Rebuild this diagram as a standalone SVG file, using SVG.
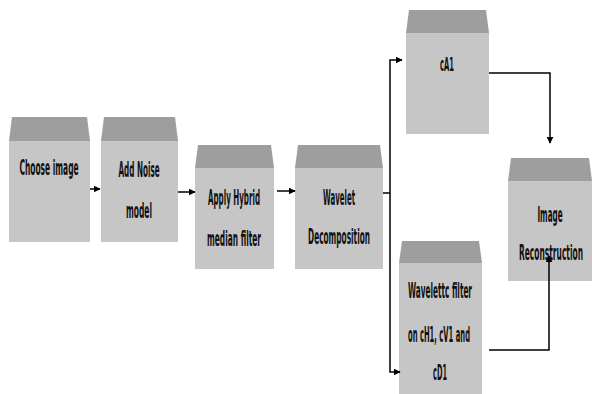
<svg xmlns="http://www.w3.org/2000/svg" width="592" height="394" viewBox="0 0 592 394">
<style>
.top{fill:#9e9e9e}
.body{fill:#c6c6c6}
.t{font-family:"DejaVu Sans Condensed","DejaVu Sans",sans-serif;font-weight:bold;font-size:22px;fill:#111;text-anchor:middle}
.s{font-size:19px}
.c{fill:none;stroke:#000;stroke-width:1.5}
</style>
<defs>
<marker id="ah" viewBox="0 0 10 10" refX="9" refY="5" markerWidth="7" markerHeight="7" markerUnits="userSpaceOnUse" orient="auto">
<path d="M0,0 L10,5 L0,10 z" fill="#000"/>
</marker>
</defs>
<rect width="592" height="394" fill="#fff"/>
<g id="n1">
<path class="top" d="M12,117 H87 L90,141 H9 Z"/>
<rect class="body" x="9" y="141" width="81" height="101"/>
<text class="t" transform="translate(49,175) scale(0.4,1)" textLength="148" lengthAdjust="spacingAndGlyphs">Choose image</text>
</g>
<g id="n2">
<path class="top" d="M104,117 H175 L178,141 H101 Z"/>
<rect class="body" x="101" y="141" width="77" height="101"/>
<text class="t" transform="translate(139,177) scale(0.4,1)" textLength="103" lengthAdjust="spacingAndGlyphs">Add Noise</text>
<text class="t" transform="translate(139,218) scale(0.4,1)" textLength="65" lengthAdjust="spacingAndGlyphs">model</text>
</g>
<g id="n3">
<path class="top" d="M198,145 H271 L274,168 H195 Z"/>
<rect class="body" x="195" y="168" width="79" height="101"/>
<text class="t" transform="translate(234,205) scale(0.4,1)" textLength="130" lengthAdjust="spacingAndGlyphs">Apply Hybrid</text>
<text class="t" transform="translate(234,246) scale(0.4,1)" textLength="135" lengthAdjust="spacingAndGlyphs">median filter</text>
</g>
<g id="n4">
<path class="top" d="M298,145 H380 L383,168 H295 Z"/>
<rect class="body" x="295" y="168" width="88" height="101"/>
<text class="t" transform="translate(339,205) scale(0.4,1)" textLength="80" lengthAdjust="spacingAndGlyphs">Wavelet</text>
<text class="t" transform="translate(339,244) scale(0.4,1)" textLength="155" lengthAdjust="spacingAndGlyphs">Decomposition</text>
</g>
<g id="n5">
<path class="top" d="M409,10 H486 L489,33 H406 Z"/>
<rect class="body" x="406" y="33" width="83" height="101"/>
<text class="t s" transform="translate(447,71) scale(0.4,1)" textLength="35" lengthAdjust="spacingAndGlyphs">cA1</text>
</g>
<g id="n6">
<path class="top" d="M402,241 H479 L482,263 H399 Z"/>
<rect class="body" x="399" y="263" width="83" height="131"/>
<text class="t" transform="translate(440,298) scale(0.4,1)" textLength="160" lengthAdjust="spacingAndGlyphs">Wavelettc filter</text>
<text class="t" transform="translate(439,342) scale(0.4,1)" textLength="155" lengthAdjust="spacingAndGlyphs">on cH1, cV1 and</text>
<text class="t" transform="translate(440,380) scale(0.4,1)" textLength="35" lengthAdjust="spacingAndGlyphs">cD1</text>
</g>
<g id="n7">
<path class="top" d="M511,158 H589 L592,181 H508 Z"/>
<rect class="body" x="508" y="181" width="84" height="100"/>
<text class="t" transform="translate(550,222) scale(0.4,1)" textLength="63" lengthAdjust="spacingAndGlyphs">Image</text>
<text class="t" transform="translate(551,260) scale(0.4,1)" textLength="160" lengthAdjust="spacingAndGlyphs">Reconstruction</text>
</g>
<g id="connectors">
<path class="c" d="M90,189 H100" marker-end="url(#ah)"/>
<path class="c" d="M178,192 H195" marker-end="url(#ah)"/>
<path class="c" d="M277,191 H295" marker-end="url(#ah)"/>
<path class="c" d="M383,193 H390"/>
<path class="c" d="M390,193 V60 H402" marker-end="url(#ah)"/>
<path class="c" d="M390,193 V372 H400" marker-end="url(#ah)"/>
<path class="c" d="M489,73 H550 V143" marker-end="url(#ah)"/>
<path class="c" d="M489,350 H549 V256" marker-end="url(#ah)"/>
</g>
</svg>
